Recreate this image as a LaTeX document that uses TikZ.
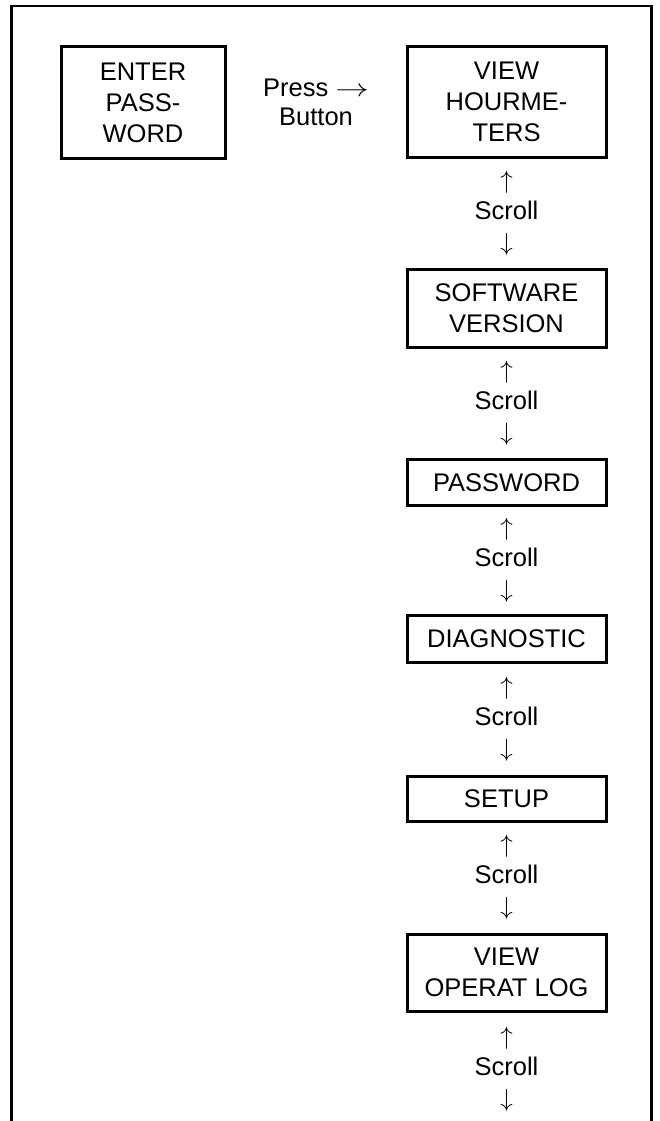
\documentclass[tikz,border=0pt]{standalone}
\usepackage{fontspec}
\usepackage{graphicx}
\setmainfont{Liberation Sans}
\usetikzlibrary{calc}

\tikzset{
  menubox/.style={draw, line width=3pt, rectangle, inner sep=0pt,
    minimum width=199pt, align=center, font=\menufont},
  scrolltag/.style={align=center, inner sep=0pt, font=\menufont},
  frameline/.style={line width=2.6pt, line join=miter},
}
\newcommand{\menufont}{\fontsize{25.5}{31}\selectfont}
\newcommand{\scrollhint}{$\uparrow$\\Scroll\\$\downarrow$}
\newcommand{\widearrow}{\scalebox{1.35}[1]{$\rightarrow$}}

\begin{document}
\begin{tikzpicture}[x=1pt, y=-1pt]
  \useasboundingbox (0,0) rectangle (660,1121);

  % open outer frame (continues past the bottom edge)
  \draw[frameline] (11.5,1124) -- (11.5,6) -- (651.5,6) -- (651.5,1124);

  % entry box and the menu column
  \node[menubox, minimum width=164pt, minimum height=112pt] (enter) at (143,102.5) {ENTER\\PASS-\\WORD};
  \node[menubox, minimum height=111pt]  (hour)  at (506.5,102)    {VIEW\\HOURME-\\TERS};
  \node[menubox, minimum height=78.5pt] (soft)  at (506.5,308.25) {SOFTWARE\\VERSION};
  \node[menubox, minimum height=46.5pt] (pass)  at (506.5,482.25) {PASSWORD};
  \node[menubox, minimum height=47.5pt] (diag)  at (506.5,638.75) {DIAGNOSTIC};
  \node[menubox, minimum height=45.5pt] (setup) at (506.5,798.75) {SETUP};
  \node[menubox, minimum height=77.5pt] (oplog) at (506.5,972.75) {VIEW\\OPERAT LOG};

  % key hint between the entry box and the first menu item
  \node[scrolltag, font=\fontsize{25.5}{29.5}\selectfont] (press)
    at ($(enter.east)!0.5!(hour.west)$) {Press \widearrow\\Button};

  % scroll hints between menu items
  \node[scrolltag] (s1) at ($(hour.south)!0.5!(soft.north)$)   {\scrollhint};
  \node[scrolltag] (s2) at ($(soft.south)!0.5!(pass.north)$)   {\scrollhint};
  \node[scrolltag] (s3) at ($(pass.south)!0.5!(diag.north)$)   {\scrollhint};
  \node[scrolltag] (s4) at ($(diag.south)!0.5!(setup.north)$)  {\scrollhint};
  \node[scrolltag] (s5) at ($(setup.south)!0.5!(oplog.north)$) {\scrollhint};
  \node[scrolltag] (s6) at ($(oplog.south)+(0,56)$)            {\scrollhint};
\end{tikzpicture}
\end{document}
